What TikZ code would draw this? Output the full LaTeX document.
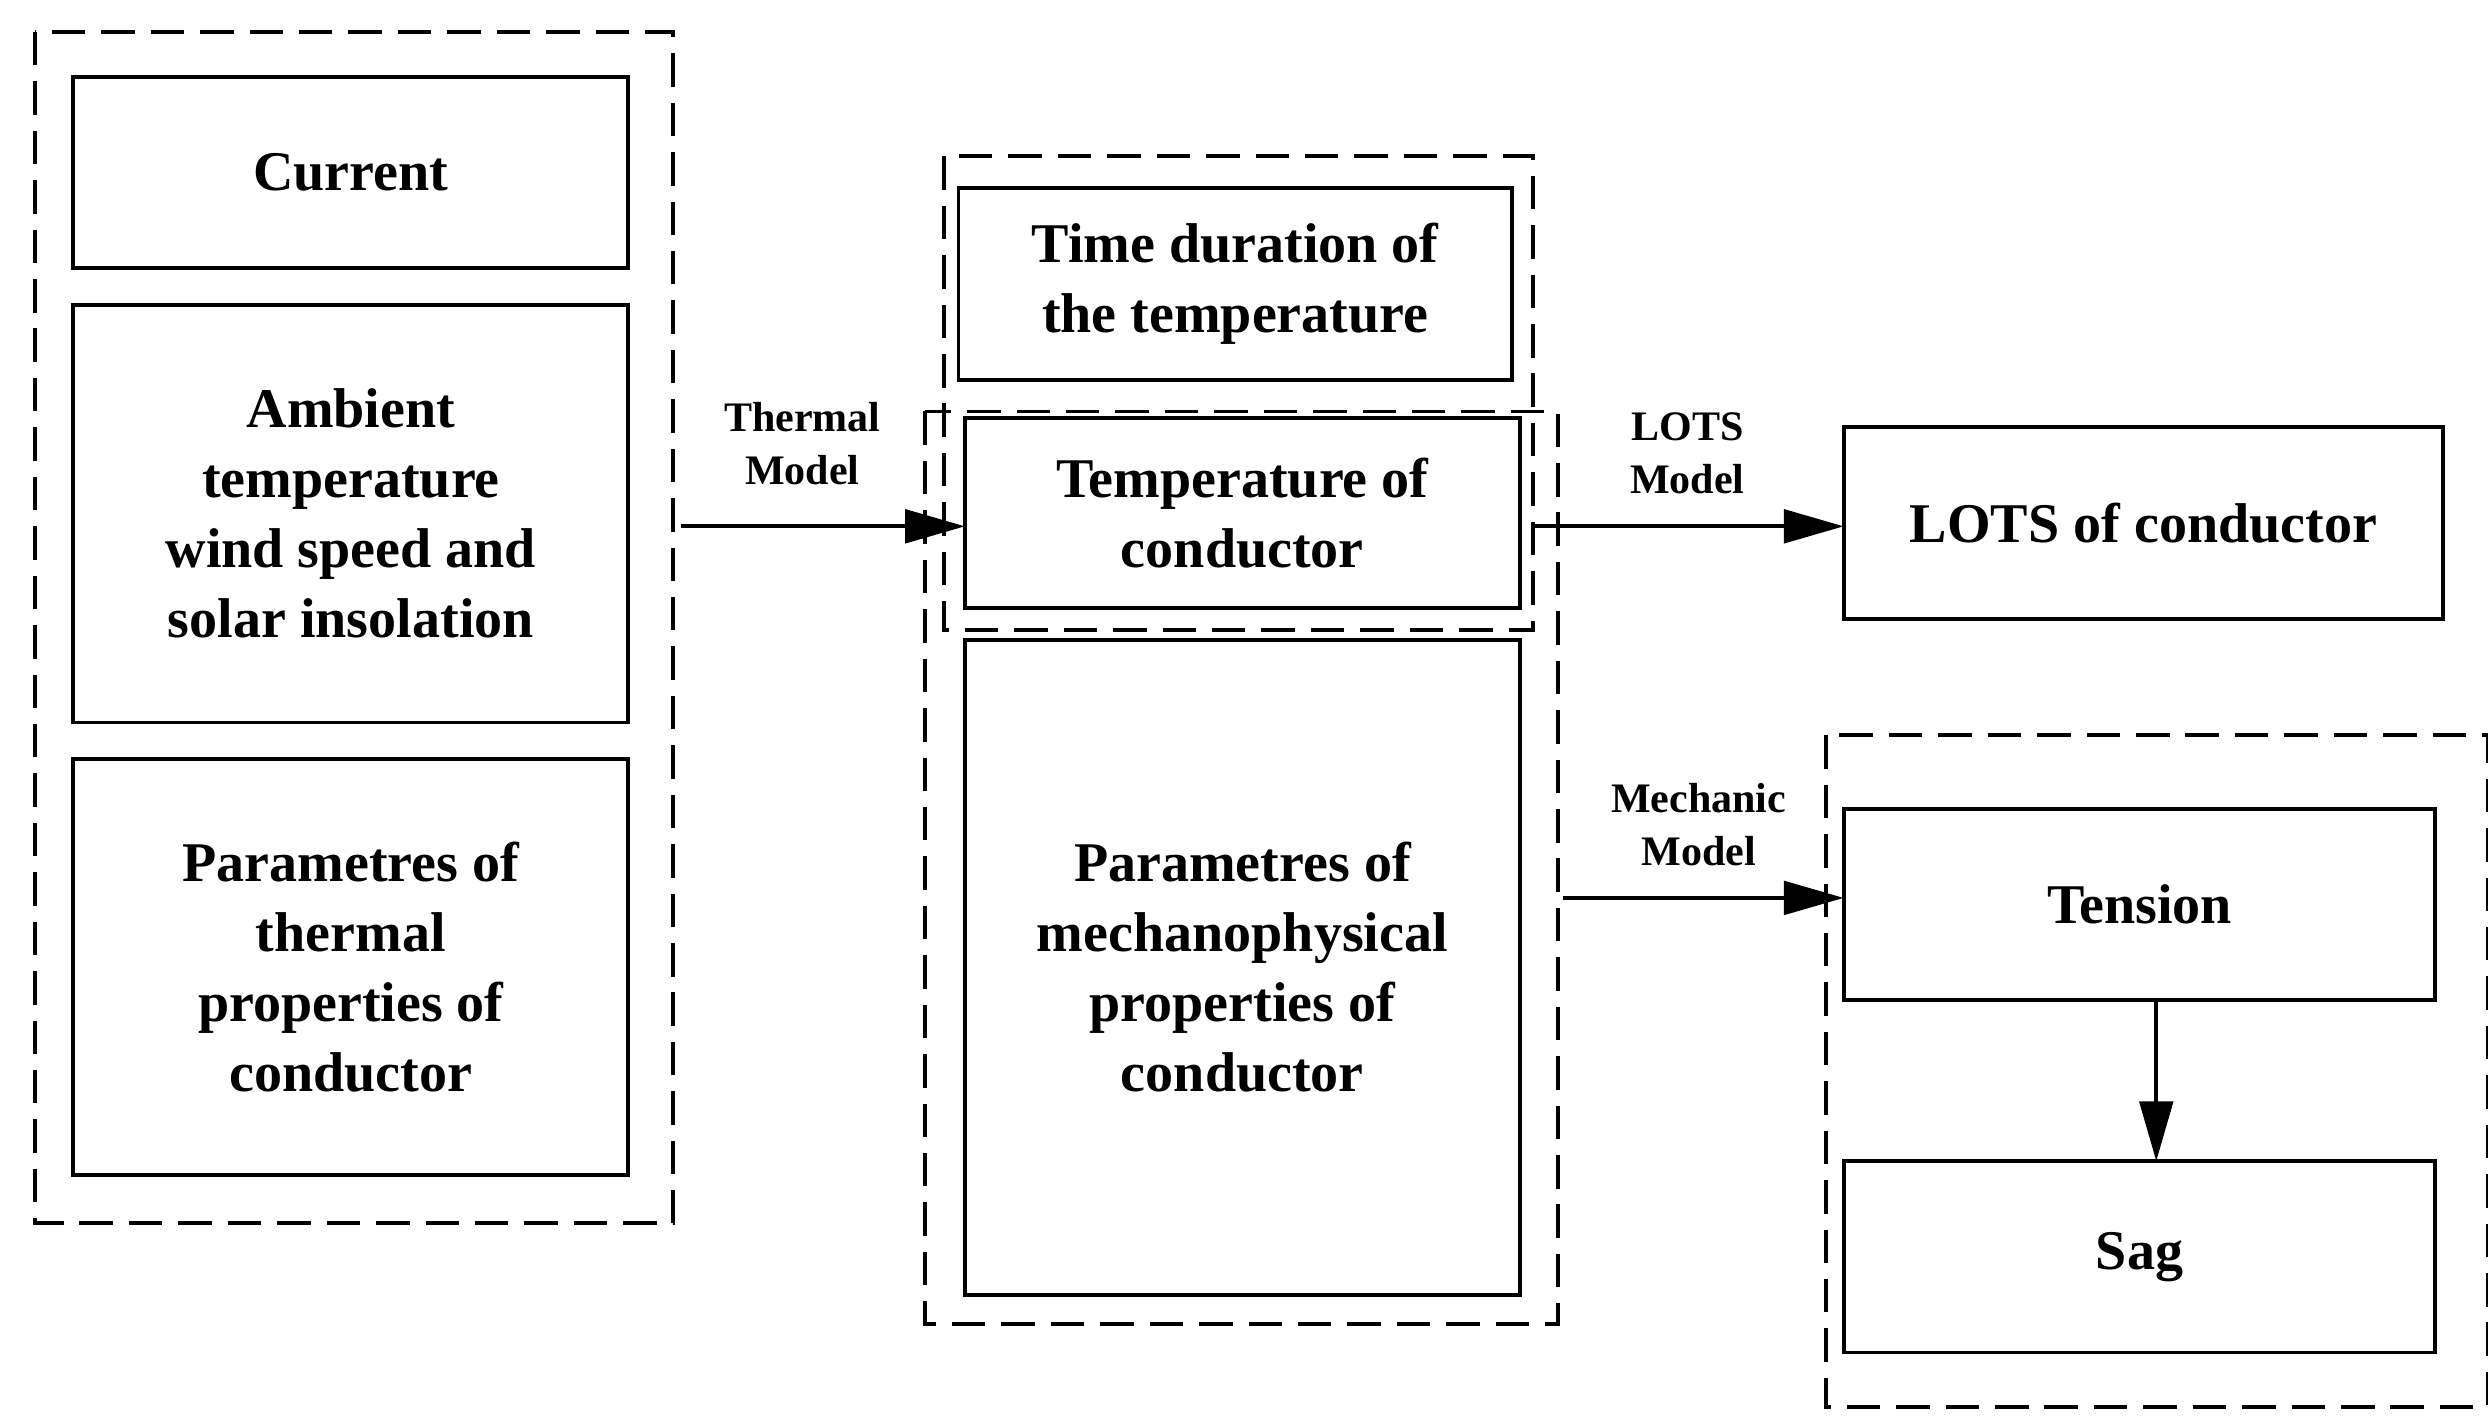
\documentclass[tikz,border=0pt]{standalone}
\usepackage{fontspec}
\setmainfont{Liberation Serif}
\usetikzlibrary{arrows.meta}
\begin{document}
\begin{tikzpicture}[x=0.02cm,y=-0.02cm,
 box/.style={draw,line width=1.4pt},
 dbox/.style={draw,line width=1.3pt,dash pattern=on 0.42cm off 0.2cm},
 txt/.style={font=\fontsize{20}{25}\selectfont\bfseries,align=center},
 lab/.style={font=\fontsize{15}{19}\selectfont\bfseries,align=center},
 arr/.style={line width=1.4pt,-{Triangle[length=0.75cm,width=0.42cm]}}]
\useasboundingbox (0,0) rectangle (1560,890);
\draw[dbox] (22,20) rectangle (422,767);
\draw[dbox] (580,258) rectangle (977,830);
\draw[dbox] (592,98) rectangle (961,395);
\draw[dbox] (1145,461) rectangle (1560,882);
\draw[box] (46,48) rectangle (394,168) node[midway,txt] (cur) {Current};
\draw[box] (46,191) rectangle (394,453) node[midway,txt] (amb) {Ambient\\temperature\\wind speed and\\solar insolation};
\draw[box] (46,476) rectangle (394,737) node[midway,txt] (par) {Parametres of\\thermal\\properties of\\conductor};
\draw[box] (601,118) rectangle (948,238) node[midway,txt] (time) {Time duration of\\the temperature};
\draw[box] (605,262) rectangle (953,381) node[midway,txt] (temp) {Temperature of\\conductor};
\draw[box] (605,401) rectangle (953,812) node[midway,txt] (mech) {Parametres of\\mechanophysical\\properties of\\conductor};
\draw[box] (1156,268) rectangle (1532,388) node[midway,txt] (lots) {LOTS of conductor};
\draw[box] (1156,507) rectangle (1527,627) node[midway,txt] (ten) {Tension};
\draw[box] (1156,728) rectangle (1527,848) node[midway,txt] (sag) {Sag};
\coordinate (a1) at (427,330); \coordinate (a2) at (605,330);
\coordinate (b1) at (960,330); \coordinate (b2) at (1156,330);
\coordinate (c1) at (980,563); \coordinate (c2) at (1156,563);
\coordinate (d1) at (1352,627); \coordinate (d2) at (1352,728);
\draw[arr] (a1) -- (a2);
\draw[arr] (b1) -- (b2);
\draw[arr] (c1) -- (c2);
\draw[arr] (d1) -- (d2);
\node[lab] (l1) at (503,278) {Thermal\\Model};
\node[lab] (l2) at (1058,284) {LOTS\\Model};
\node[lab] (l3) at (1065,517) {Mechanic\\Model};
\end{tikzpicture}
\end{document}
